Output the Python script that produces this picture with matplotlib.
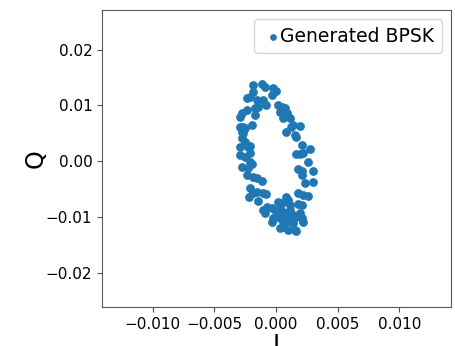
import numpy as np
import matplotlib
matplotlib.use("Agg")
import matplotlib.pyplot as plt

# amostras I/Q (em unidades de 1e-3)
I_milli = [-1.89, -1.16, -0.89, -1.83, -2.10, -2.37, -1.56, -1.02, -0.81, -1.43,
           -1.70, -0.22, 0.05, -0.35, 0.19, 0.46, 0.59, 0.32, 0.73, 0.92,
           1.13, 0.59, -2.78, -2.91, -2.37, -1.70, -2.64, -2.91, -2.51, -1.97,
           1.40, 1.94, 0.86, 1.54, 1.67, -2.78, -2.51, -2.91, -2.24, -2.51,
           -2.10, 2.08, 2.75, 1.67, 1.94, 2.21, -2.91, -2.51, -2.10, -1.91,
           -2.78, 2.62, 1.81, 2.08, 2.97, -2.37, -1.83, -1.56, -1.16, 2.08,
           2.35, 3.02, -2.10, -1.83, -1.56, -1.02, -0.84, 1.81, 2.21, 2.62,
           -2.16, -1.43, 0.86, 1.00, 0.19, 0.46, 1.13, 1.81, 2.08, -0.76,
           -1.02, -0.89, -0.35, -0.08, 0.32, 0.59, 0.86, 1.13, 1.40, 1.94,
           1.67, 2.08, 2.21, -0.22, 0.19, 0.46, 0.86, 1.13, 1.40, 0.59,
           0.32, 1.00, 1.54, 1.67, -0.35, -2.64, 1.21, -2.72, -2.10, -2.24]
Q_milli = [13.68, 13.86, 13.38, 12.49, 11.59, 11.29, 10.99, 10.99, 10.10, 9.80,
           9.50, 13.08, 12.66, 11.89, 10.10, 9.80, 9.20, 8.90, 9.50, 8.60,
           7.71, 7.71, 8.60, 8.00, 9.20, 8.30, 6.21, 6.21, 5.91, 6.51,
           6.51, 6.33, 5.32, 4.72, 4.42, 4.12, 3.52, 2.63, 2.63, 3.23,
           2.75, 2.93, 2.21, 1.31, 1.31, 1.43, 1.14, 0.84, -0.06, -0.54,
           -0.96, -0.06, -1.37, -1.67, -1.67, -2.45, -2.75, -3.05, -3.52, -2.45,
           -3.82, -3.76, -4.84, -5.62, -5.44, -5.73, -5.91, -5.73, -6.03, -6.21,
           -6.33, -7.05, -6.33, -6.93, -7.23, -7.53, -7.83, -7.65, -7.83, -8.12,
           -8.72, -9.32, -8.42, -8.72, -8.42, -9.02, -9.32, -8.72, -9.62, -9.32,
           -9.92, -10.22, -10.81, -10.22, -9.92, -10.51, -10.81, -10.51, -11.11, -11.71,
           -12.01, -12.31, -12.31, -12.43, -10.81, 5.02, 6.21, 5.32, 1.43, -1.25]

I = np.array(I_milli) * 1e-3
Q = np.array(Q_milli) * 1e-3

xticks = [-0.010, -0.005, 0.000, 0.005, 0.010]
yticks = [-0.02, -0.01, 0.00, 0.01, 0.02]

fig = plt.figure(figsize=(4.56, 3.46), dpi=100)
ax = fig.add_axes([0.2237, 0.1127, 0.7653, 0.8583])

ax.scatter(I, Q, s=28, color="#1f77b4", label="Generated BPSK")

ax.set_xlim(-0.0141, 0.0142)
ax.set_ylim(-0.0261, 0.0271)
ax.set_xticks(xticks)
ax.set_xticklabels(["\u22120.010", "\u22120.005", "0.000", "0.005", "0.010"])
ax.set_yticks(yticks)
ax.set_yticklabels(["\u22120.02", "\u22120.01", "0.00", "0.01", "0.02"])
ax.tick_params(labelsize=11, color="0.3")
for s in ax.spines.values():
    s.set_color("0.35")

ax.set_xlabel("I", fontsize=17, labelpad=1)
ax.set_ylabel("Q", fontsize=17, labelpad=-1)

ax.legend(loc="upper right", fontsize=13.5, markerscale=0.72,
          handlelength=1.2, handletextpad=-0.2, borderaxespad=0.5)

fig.savefig("out.png", dpi=100)
